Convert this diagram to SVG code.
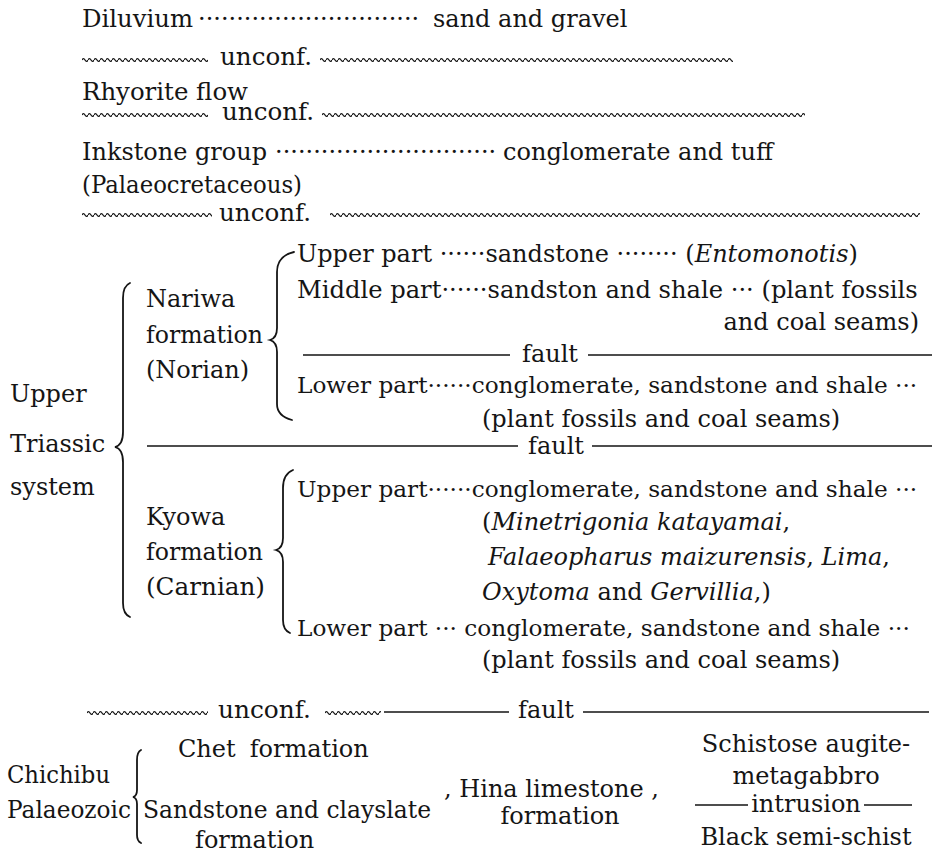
<svg xmlns="http://www.w3.org/2000/svg" width="934" height="855" viewBox="0 0 934 855">
<style>
text{font-family:'DejaVu Serif','Liberation Serif',serif;font-size:24px;fill:#151515}
.i{font-style:italic}
.long{font-size:23.2px}
.ln{stroke:#151515;stroke-width:1.4;fill:none}
.br{stroke:#151515;stroke-width:1.8;fill:none;stroke-linecap:round}
</style>
<defs>
<pattern id="wv" width="6" height="6" patternUnits="userSpaceOnUse">
<path d="M0,3 Q1.5,0.3 3,3 T6,3" fill="none" stroke="#151515" stroke-width="1.3"/>
</pattern>
</defs>
<rect width="934" height="855" fill="#fff"/>
<g id="connectors">
<rect transform="translate(82,57)" width="126" height="6" fill="url(#wv)"/>
<rect transform="translate(320,57)" width="413" height="6" fill="url(#wv)"/>
<rect transform="translate(82,112)" width="126" height="6" fill="url(#wv)"/>
<rect transform="translate(322,112)" width="483" height="6" fill="url(#wv)"/>
<rect transform="translate(82,212)" width="130" height="6" fill="url(#wv)"/>
<rect transform="translate(330,212)" width="590" height="6" fill="url(#wv)"/>
<rect transform="translate(87,710)" width="121" height="6" fill="url(#wv)"/>
<rect transform="translate(325,710)" width="56" height="6" fill="url(#wv)"/>
<path class="ln" d="M303,355H510M588,355H932"/>
<path class="ln" d="M147,446H518M592,446H932"/>
<path class="ln" d="M384,712H509M583,712H929"/>
<path class="ln" d="M695,805H748M864,805H912"/>
<path class="br" d="M130,283Q123,286 123,298L123,432Q123,445 115,447Q123,449 123,462L123,603Q123,614 130,617"/>
<path class="br" d="M294,252Q277,256 277,272L277,328Q277,338 270,340Q277,342 277,352L277,404Q277,416 292,420"/>
<path class="br" d="M293,470Q283,474 283,488L283,538Q283,548 276,550Q283,552 283,562L283,620Q283,630 290,633"/>
<path class="br" d="M141,750Q137,752 137,760L137,790Q137,796 133,797Q137,798 137,804L137,835Q137,841 141,843"/>
</g>
<g id="diluvium">
<text x="82" y="27" textLength="111" lengthAdjust="spacingAndGlyphs">Diluvium</text>
<text x="198" y="27">·····························</text>
<text x="433" y="27">sand and gravel</text>
</g>
<g id="unconf1"><text x="220" y="65" textLength="92" lengthAdjust="spacingAndGlyphs">unconf.</text></g>
<g id="rhyorite"><text x="82" y="100" textLength="166" lengthAdjust="spacingAndGlyphs">Rhyorite flow</text></g>
<g id="unconf2"><text x="222" y="120" textLength="92" lengthAdjust="spacingAndGlyphs">unconf.</text></g>
<g id="inkstone">
<text x="82" y="160" textLength="185" lengthAdjust="spacingAndGlyphs">Inkstone group</text>
<text x="275" y="160">·····························</text>
<text x="773" y="160" text-anchor="end">conglomerate and tuff</text>
<text x="82" y="193" textLength="220" lengthAdjust="spacingAndGlyphs">(Palaeocretaceous)</text>
</g>
<g id="unconf3"><text x="219" y="221" textLength="92" lengthAdjust="spacingAndGlyphs">unconf.</text></g>
<g id="nariwa">
<text x="146" y="307">Nariwa</text>
<text x="146" y="343" textLength="117" lengthAdjust="spacingAndGlyphs">formation</text>
<text x="146" y="378">(Norian)</text>
<text x="297" y="262">Upper part ······sandstone ········ (<tspan class="i">Entomonotis</tspan>)</text>
<text x="297" y="298" style="font-size:24.2px">Middle part······sandston and shale ··· (plant fossils</text>
<text x="919" y="330" text-anchor="end">and coal seams)</text>
<text x="522" y="362">fault</text>
<text x="297" y="393" class="long">Lower part······conglomerate, sandstone and shale ···</text>
<text x="482" y="427">(plant fossils and coal seams)</text>
</g>
<g id="triassic">
<text x="10" y="402">Upper</text>
<text x="10" y="452">Triassic</text>
<text x="10" y="495">system</text>
<text x="528" y="454">fault</text>
</g>
<g id="kyowa">
<text x="146" y="525">Kyowa</text>
<text x="146" y="560" textLength="117" lengthAdjust="spacingAndGlyphs">formation</text>
<text x="146" y="595" textLength="119" lengthAdjust="spacingAndGlyphs">(Carnian)</text>
<text x="297" y="497" class="long">Upper part······conglomerate, sandstone and shale ···</text>
<text x="482" y="530">(<tspan class="i">Minetrigonia katayamai</tspan>,</text>
<text x="488" y="565"><tspan class="i">Falaeopharus maizurensis</tspan>, <tspan class="i">Lima</tspan>,</text>
<text x="482" y="600"><tspan class="i">Oxytoma</tspan> and <tspan class="i">Gervillia</tspan>,)</text>
<text x="297" y="636" class="long">Lower part ··· conglomerate, sandstone and shale ···</text>
<text x="482" y="668">(plant fossils and coal seams)</text>
</g>
<g id="unconf4">
<text x="218" y="718" textLength="93" lengthAdjust="spacingAndGlyphs">unconf.</text>
<text x="518" y="718">fault</text>
</g>
<g id="chichibu">
<text x="7" y="783" textLength="103" lengthAdjust="spacingAndGlyphs">Chichibu</text>
<text x="7" y="818" textLength="124" lengthAdjust="spacingAndGlyphs">Palaeozoic</text>
<text x="178" y="757">Chet<tspan dx="14">formation</tspan></text>
<text x="143" y="818" textLength="288" lengthAdjust="spacingAndGlyphs">Sandstone and clayslate</text>
<text x="195" y="848">formation</text>
</g>
<g id="hina">
<text x="444" y="797" textLength="215" lengthAdjust="spacingAndGlyphs">, Hina limestone ,</text>
<text x="560" y="824" text-anchor="middle">formation</text>
</g>
<g id="schist">
<text x="806" y="752" text-anchor="middle">Schistose augite-</text>
<text x="806" y="784" text-anchor="middle">metagabbro</text>
<text x="806" y="812" text-anchor="middle">intrusion</text>
<text x="806" y="845" text-anchor="middle">Black semi-schist</text>
</g>
</svg>
